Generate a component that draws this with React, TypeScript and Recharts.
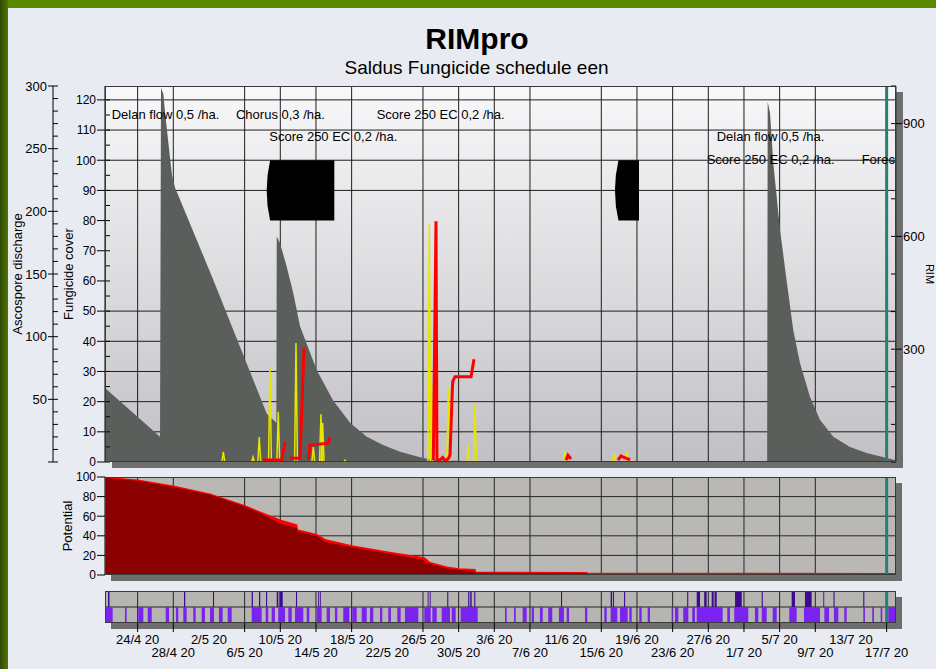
import React from 'react'
import {
  ComposedChart,
  Area,
  Line,
  XAxis,
  YAxis,
  CartesianGrid,
  ReferenceLine,
  ReferenceArea,
  ReferenceDot,
} from 'recharts'

const FONT = '"Liberation Sans", Arial, Helvetica, sans-serif'

// x is counted in days, day 0 = 20/4
const X_DOMAIN: [number, number] = [0.34, 89.05]
const forecastDay = 88

const dateTicks = [4, 8, 12, 16, 20, 24, 28, 32, 36, 40, 44, 48, 52, 56, 60, 64, 68, 72, 76, 80, 84, 88]
const dateLabels = [
  '24/4 20', '28/4 20', '2/5 20', '6/5 20', '10/5 20', '14/5 20', '18/5 20', '22/5 20',
  '26/5 20', '30/5 20', '3/6 20', '7/6 20', '11/6 20', '15/6 20', '19/6 20', '23/6 20',
  '27/6 20', '1/7 20', '5/7 20', '9/7 20', '13/7 20', '17/7 20',
]
const gridDays = [4, 8, 16, 20, 24, 28, 36, 40, 44, 48, 56, 60, 64, 68, 72, 76, 80, 88]
const coverGrid = [10, 20, 30, 40, 50, 90, 100, 110, 120]
const potentialGrid = [20, 40, 60, 80]

// fungicide cover (grey sawtooth)
const coverDays = [
  0.34, 6.51, 6.62, 6.88, 7.07, 7.44, 7.85, 8.19, 12.49, 15.48, 18.47, 19.56, 19.6, 19.97,
  20.72, 21.46, 22.21, 24.08, 25.91, 27.82, 29.69, 31.52, 33.42, 36.0, 37.91, 41.27, 74.6,
  74.66, 74.92, 75.29, 76.04, 76.79, 77.53, 78.28, 79.4, 80.52, 82.02, 83.89, 85.76, 88.0, 89.05,
]
const coverValues = [
  24.5, 8.4, 124, 122, 116, 106, 95, 91, 60.3, 38.2, 16.1, 13, 74.7, 72.5,
  64.7, 55.9, 45, 30.5, 20.5, 13, 8.4, 5.6, 3.4, 1.3, 0.5, 0.3, 0.3,
  119.4, 115.7, 99, 77, 60, 43.7, 32.8, 21.6, 14, 8.4, 5, 3, 1.3, 0.6,
]

// ascospore discharge (yellow spikes)
const sporeDays = [13.61, 16.94, 17.64, 18.84, 19.77, 21.76, 23.7, 24.56, 24.75, 27.26, 36.71, 36.96, 38.84, 41.08, 41.83, 51.93, 57.42, 58.88]
const sporeValues = [8, 4, 20, 76, 40, 95, 12, 38, 31, 1.5, 190, 63, 60, 13.5, 47, 9, 7, 8]

// RIM value (red), null = gap
const rimDays = [
  18.09, 20.16, 20.53, 20.8, 21.09, 22.21, 22.66, 22.9, 23.14, 23.33, 25.38, 25.57, 26,
  37.16, 37.46, 37.57, 37.85, 38.2, 38.55, 38.86, 39.03, 39.33, 39.59, 41.39, 41.72, 45,
  52.04, 52.26, 52.6, 55, 57.87, 58.21, 58.54, 59.22,
]
const rimValues = [
  5, 5, 54, null, 10, 10, 303, null, 5, 45, 50, 66, null,
  5, 640, 8, 4, 12, 3, 10, 18, 214, 227, 227, 273, null,
  5, 18, 8, null, 5, 16, 12, 6,
]

// spray blocks (black)
const sprayBlocks: [number, number][] = [[18.47, 26.06], [57.53, 60.23]]

const noteDays = [1.09, 15.03, 30.81, 18.77, 68.94, 67.82, 85.2]
const noteLevels = [115, 115, 115, 107.8, 107.8, 100.1, 100.1]
const noteTexts = [
  'Delan flow 0,5 /ha.', 'Chorus 0,3 /ha.', 'Score 250 EC 0,2 /ha.', 'Score 250 EC 0,2 /ha.',
  'Delan flow 0,5 /ha.', 'Score 250 EC 0,2 /ha.', 'Forec',
]

// potential
const potDays = [0.34, 4, 8, 12.1, 16.04, 17.72, 19.97, 21.84, 21.9, 24.08, 25.01, 28.01, 31.93, 36.12, 36.2, 36.79, 38.66, 40.04, 41.83, 41.9, 44.27, 54.36, 54.45, 89.05]
const potLower = [99, 96.2, 89.8, 81.9, 69.9, 63.1, 52.9, 48, 44.3, 39.9, 34, 28.3, 22.2, 15.4, 13, 11.3, 6.8, 5.1, 3.4, 2.4, 2.2, 1.8, 0.4, 0.3]
const potUpper = [99.5, 96.8, 90.5, 82.5, 70.5, 64, 56, 51, 46, 41, 36, 29.5, 23.5, 17.5, 17, 12.5, 8, 6.2, 5.5, 2.8, 2.6, 2.4, 1.5, 1.4]

// leaf wetness (lower row) and rain (upper row), [start, end] in days
const wetPeriods: [number, number][] = [
  [0.34, 1.2], [2.58, 2.77], [4.07, 4.64], [5.13, 5.58], [7.15, 7.52], [8.3, 8.56], [9.12, 9.5],
  [10.24, 10.51], [11.18, 11.55], [12.12, 12.56], [13.12, 13.54], [14.1, 14.55], [16.79, 17.91],
  [18.36, 18.65], [19.03, 19.4], [19.77, 20.53], [20.9, 21.28], [21.65, 22.58], [22.96, 23.25],
  [24.08, 24.64], [25.2, 25.57], [26.13, 26.39], [27.06, 27.74], [28.07, 28.57], [29.13, 29.69],
  [30.06, 30.43], [31.18, 31.44], [32.11, 32.41], [33.12, 33.5], [33.98, 35.48], [36.15, 36.87],
  [37.05, 37.54], [38.1, 39.03], [39.22, 39.67], [40.23, 42.14], [45.2, 45.39], [46.21, 46.4],
  [47.18, 47.63], [48.19, 48.45], [49.12, 49.43], [50.05, 50.5], [51.25, 51.81], [52.12, 52.38],
  [54.17, 54.43], [56.34, 56.61], [57.05, 57.79], [58.1, 58.96], [59.14, 59.41], [60.26, 60.53],
  [61.2, 61.46], [63.89, 64.0], [64.26, 64.64], [65.19, 65.76], [66.2, 66.51], [66.7, 69.61],
  [70.13, 70.43], [70.91, 72.48], [73.23, 73.61], [73.99, 74.55], [75.22, 75.67], [77.08, 77.91],
  [78.73, 80.53], [81.01, 81.54], [82.09, 82.58], [83.25, 83.52], [85.38, 85.57], [86.39, 86.58],
  [87.33, 87.51], [88.18, 89.05],
]
const rainPeriods: [number, number][] = [
  [0.68, 0.84], [9.2, 9.34], [12.45, 12.57], [16.79, 16.93], [17.61, 17.75], [18.4, 18.52],
  [19.6, 19.78], [19.9, 20.27], [21.76, 21.88], [24.25, 24.35], [24.44, 24.54], [36.53, 36.63],
  [36.76, 36.86], [38.72, 38.84], [41.07, 41.2], [41.3, 41.46], [41.75, 41.87], [51.48, 51.6],
  [57.05, 57.2], [57.3, 57.42], [58.55, 58.67], [65.63, 65.75], [66.7, 67.07], [67.54, 67.81],
  [68.38, 68.6], [68.7, 68.94], [71.0, 71.75], [73.99, 74.11], [77.35, 77.72], [78.84, 79.59],
  [80.9, 81.0], [82.04, 82.16], [85.38, 85.5],
]

const coverData = coverDays.map((day, i) => ({ day, cover: coverValues[i] }))
const sporeData = sporeDays.flatMap((day, i) => [
  { day: day - 0.16, spores: 0 },
  { day, spores: sporeValues[i] },
  { day: day + 0.16, spores: 0 },
  { day: day + 0.16, spores: null },
])
const rimData = rimDays.map((day, i) => ({ day, rim: rimValues[i] }))
const potData = potDays.map((day, i) => ({ day, low: potLower[i], high: potUpper[i] }))

// on/off bands for the strip: each period becomes a flat segment, broken by a null
const bandData = (periods: [number, number][], key: string, level: number) =>
  periods.flatMap(([a, b]) => [
    { day: a, [key]: level },
    { day: b, [key]: level },
    { day: b, [key]: null },
  ])
const wetData = bandData(wetPeriods, 'wet', 1)
const rainData = bandData(rainPeriods, 'rain', 2)

const range = (from: number, to: number, step: number) => {
  const out: number[] = []
  for (let v = from; v <= to; v += step) out.push(v)
  return out
}

const txt = { fontFamily: FONT, fill: '#000' }

const FungTick = (p: any) => {
  const { x, y, payload } = p
  const major = payload.value % 10 === 0
  return (
    <g>
      {major && <line x1={x - 8} x2={x} y1={y} y2={y} stroke="#000" />}
      <line x1={x} x2={x + 5} y1={y} y2={y} stroke="#000" />
      {major && (
        <text x={x - 9} y={y + 4.3} textAnchor="end" fontSize={12} {...txt}>
          {payload.value}
        </text>
      )}
    </g>
  )
}

const SporeTick = (p: any) => {
  const { x, y, payload } = p
  const major = payload.value % 50 === 0
  return (
    <g>
      {major && <line x1={x - 5} x2={x} y1={y} y2={y} stroke="#000" />}
      <line x1={x} x2={x + 5} y1={y} y2={y} stroke="#000" />
      {major && payload.value > 0 && (
        <text x={x - 6} y={y + 4.5} textAnchor="end" fontSize={13} {...txt}>
          {payload.value}
        </text>
      )}
    </g>
  )
}

const RimTick = (p: any) => {
  const { x, y, payload } = p
  const major = payload.value % 300 === 0 && payload.value > 0
  return (
    <g>
      <line x1={x - 5} x2={major ? x + 6 : x} y1={y} y2={y} stroke="#000" />
      {major && (
        <text x={x + 7} y={y + 4.5} textAnchor="start" fontSize={13} {...txt}>
          {payload.value}
        </text>
      )}
    </g>
  )
}

const PotTick = (p: any) => {
  const { x, y, payload } = p
  return (
    <g>
      <line x1={x - 8} x2={x} y1={y} y2={y} stroke="#000" />
      <text x={x - 9} y={y + 4.3} textAnchor="end" fontSize={12} {...txt}>
        {payload.value}
      </text>
    </g>
  )
}

const DateTick = (p: any) => {
  const { x, y, payload } = p
  const i = dateTicks.indexOf(payload.value)
  return (
    <g>
      {gridDays.includes(payload.value) && <line x1={x} x2={x} y1={y} y2={y + 9} stroke="#000" />}
      <text x={x} y={y + (i % 2 ? 34.4 : 21)} textAnchor="middle" fontSize={13} {...txt}>
        {dateLabels[i]}
      </text>
    </g>
  )
}

const BlockShape = (p: any) => {
  const { x, y, width, height } = p
  const b = 3.5
  return (
    <path
      d={`M${x + b},${y} L${x + width},${y} L${x + width},${y + height} L${x + b},${y + height} Q${x - b},${y + height / 2} ${x + b},${y} Z`}
      fill="#000"
    />
  )
}

const abs = (left: number, top: number, width: number, height: number, extra: React.CSSProperties = {}): React.CSSProperties => ({
  position: 'absolute', left, top, width, height, ...extra,
})

const axisTitle = (value: string, offset: number) => ({
  value,
  angle: -90,
  position: 'insideLeft' as const,
  offset,
  style: { textAnchor: 'middle' as const, fontSize: 13, fontFamily: FONT, fill: '#000' },
})

export default function App() {
  return (
    <div style={abs(0, 0, 936, 669, { background: '#e8ebf2', overflow: 'hidden', fontFamily: FONT })}>
      <div style={abs(0, 0, 936, 8, { background: '#5b8a00' })} />
      <div style={abs(0, 0, 8, 669, { background: 'linear-gradient(90deg, #2f4a08, #4f7800)' })} />

      <svg style={abs(0, 0, 936, 84)} width={936} height={84}>
        <text x={477} y={48.5} textAnchor="middle" fontSize={30} fontWeight="bold" {...txt}>RIMpro</text>
        <text x={476.5} y={74} textAnchor="middle" fontSize={19} {...txt}>Saldus Fungicide schedule een</text>
      </svg>

      {/* panel shadows */}
      <div style={abs(112, 92, 791, 376, { background: '#6e6e6e' })} />
      <div style={abs(111, 483, 791, 98, { background: '#6e6e6e' })} />
      <div style={abs(111, 597, 791, 32, { background: '#6e6e6e' })} />

      <div style={abs(0, 0, 936, 470)}>
        <ComposedChart width={936} height={470} margin={{ top: 86, right: 0, bottom: 8, left: 13 }}>
          <defs>
            <linearGradient id="mainBg" x1="0" y1="0" x2="0" y2="1">
              <stop offset="0%" stopColor="#f8f8fa" />
              <stop offset="100%" stopColor="#c2c0c4" />
            </linearGradient>
          </defs>
          <XAxis type="number" dataKey="day" domain={X_DOMAIN} allowDataOverflow hide />
          <YAxis
            yAxisId="cover"
            width={52}
            domain={[0, 124.6]}
            ticks={range(0, 120, 5)}
            interval={0}
            tickSize={0}
            tickMargin={0}
            tick={FungTick}
            axisLine={{ stroke: '#000' }}
            label={axisTitle('Fungicide cover', 15)}
          />
          <YAxis
            yAxisId="spores"
            width={40}
            domain={[0, 300]}
            ticks={range(0, 300, 10)}
            interval={0}
            tickSize={0}
            tickMargin={0}
            tick={SporeTick}
            axisLine={{ stroke: '#000' }}
            label={axisTitle('Ascospore discharge', 4)}
          />
          <YAxis
            yAxisId="rim"
            orientation="right"
            width={40}
            domain={[0, 1000]}
            ticks={range(0, 1000, 100)}
            interval={0}
            tickSize={0}
            tickMargin={0}
            tick={RimTick}
            axisLine={{ stroke: '#333' }}
            label={{ value: 'RIM', angle: 90, position: 'right', offset: -6, style: { textAnchor: 'middle', fontSize: 11, fontFamily: FONT, fill: '#000' } }}
          />
          <CartesianGrid
            yAxisId="cover"
            horizontalValues={coverGrid}
            verticalValues={gridDays}
            stroke="#1e1e1e"
            fill="url(#mainBg)"
            fillOpacity={1}
          />
          <Area
            yAxisId="cover"
            data={coverData}
            dataKey="cover"
            type="linear"
            stroke="none"
            fill="#5b5f5c"
            fillOpacity={1}
            isAnimationActive={false}
          />
          {sprayBlocks.map(([a, b], i) => (
            <ReferenceArea key={`blk${i}`} yAxisId="cover" x1={a} x2={b} y1={80} y2={100} shape={BlockShape} />
          ))}
          <Line
            yAxisId="spores"
            data={sporeData}
            dataKey="spores"
            type="linear"
            stroke="#e6e600"
            strokeWidth={1.5}
            dot={false}
            isAnimationActive={false}
          />
          <Line
            yAxisId="rim"
            data={rimData}
            dataKey="rim"
            type="linear"
            stroke="#ff0000"
            strokeWidth={3}
            dot={false}
            isAnimationActive={false}
          />
          <ReferenceLine yAxisId="cover" x={forecastDay} stroke="#2b7e72" strokeWidth={3} />
          {noteTexts.map((t, i) => (
            <ReferenceDot
              key={`note${i}`}
              yAxisId="cover"
              x={noteDays[i]}
              y={noteLevels[i]}
              r={0}
              ifOverflow="visible"
              shape={(p: any) => (
                <text x={p.cx} y={p.cy + 4.5} fontSize={13} {...txt}>{t}</text>
              )}
            />
          ))}
        </ComposedChart>
      </div>

      <div style={abs(0, 470, 936, 112)}>
        <ComposedChart width={936} height={112} margin={{ top: 7, right: 40, bottom: 7, left: 53 }}>
          <XAxis type="number" dataKey="day" domain={X_DOMAIN} allowDataOverflow hide />
          <YAxis
            width={52}
            domain={[0, 100]}
            ticks={[0, 20, 40, 60, 80, 100]}
            interval={0}
            tickSize={0}
            tickMargin={0}
            tick={PotTick}
            axisLine={{ stroke: '#000' }}
            label={axisTitle('Potential', 14)}
          />
          <CartesianGrid horizontalValues={potentialGrid} verticalValues={gridDays} stroke="#262626" fill="#b9b8b4" fillOpacity={1} />
          <Area data={potData} dataKey="high" type="linear" stroke="#ff0000" strokeWidth={1.5} fill="#ff0000" fillOpacity={1} isAnimationActive={false} />
          <Area data={potData} dataKey="low" type="linear" stroke="none" fill="#8b0000" fillOpacity={1} isAnimationActive={false} />
          <ReferenceLine x={forecastDay} stroke="#2b7e72" strokeWidth={3} />
        </ComposedChart>
      </div>

      <div style={abs(0, 583, 936, 86)}>
        <ComposedChart width={936} height={86} margin={{ top: 8, right: 40, bottom: 6, left: 105 }}>
          <XAxis
            type="number"
            dataKey="day"
            domain={X_DOMAIN}
            allowDataOverflow
            ticks={dateTicks}
            interval={0}
            height={40}
            tickSize={0}
            tickMargin={0}
            axisLine={false}
            tick={DateTick}
          />
          <YAxis hide type="number" domain={[0, 2]} allowDataOverflow />
          <CartesianGrid horizontalValues={[1]} verticalValues={gridDays} stroke="#262626" fill="#b6b5b1" fillOpacity={1} />
          <Area data={wetData} dataKey="wet" type="linear" baseValue={0} stroke="none" fill="#7a22f0" fillOpacity={1} isAnimationActive={false} />
          <Area data={rainData} dataKey="rain" type="linear" baseValue={1} stroke="none" fill="#3c0a8c" fillOpacity={1} isAnimationActive={false} />
          <ReferenceLine x={forecastDay} stroke="#2b7e72" strokeWidth={3} />
        </ComposedChart>
      </div>

      {/* panel frames */}
      <div style={abs(105, 86, 791, 376, { border: '1px solid #3a3a3a', boxSizing: 'border-box', pointerEvents: 'none' })} />
      <div style={abs(105, 477, 791, 98, { border: '1px solid #3a3a3a', boxSizing: 'border-box', pointerEvents: 'none' })} />
      <div style={abs(105, 591, 791, 32, { border: '1px solid #3a3a3a', boxSizing: 'border-box', pointerEvents: 'none' })} />
    </div>
  )
}
